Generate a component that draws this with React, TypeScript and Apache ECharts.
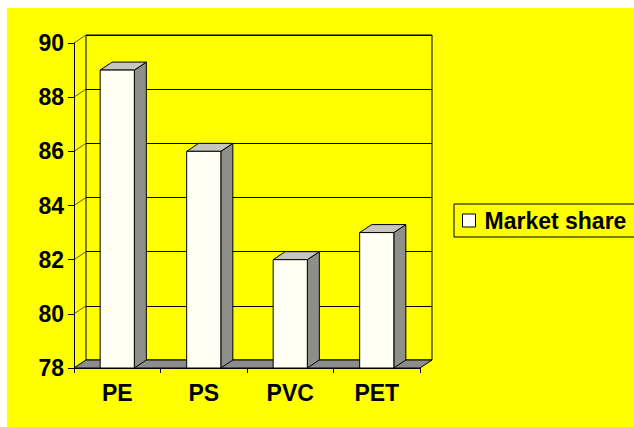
import React, { useEffect, useRef } from "react";
import * as echarts from "echarts";

const categories = ["PE", "PS", "PVC", "PET"];
const marketShare = [89, 86, 82, 83];
const yMin = 78;
const yMax = 90;
const yInterval = 2;
const seriesName = "Market share";

const DX = 12;
const DY = -8;
const FONT = "'Liberation Sans', Arial, sans-serif";

export default function App() {
  const ref = useRef<HTMLDivElement>(null);
  useEffect(() => {
    document.body.style.margin = "0";
    const chart = echarts.init(ref.current!, null, { renderer: "svg" });
    const yTicks: number[] = [];
    for (let v = yMin; v <= yMax; v += yInterval) yTicks.push(v);

    const option: any = {
      animation: false,
      backgroundColor: "transparent",
      grid: [
        { left: 67, top: 35, width: 346, height: 325, show: false },
        {
          left: 79,
          top: 27,
          width: 346,
          height: 325,
          show: true,
          backgroundColor: "#ffff00",
          borderColor: "#000",
          borderWidth: 1,
        },
      ],
      xAxis: [
        {
          type: "category",
          gridIndex: 0,
          data: categories,
          boundaryGap: true,
          axisLine: { show: true, lineStyle: { color: "#000", width: 1 } },
          axisTick: { show: true, length: 5, lineStyle: { color: "#000" } },
          axisLabel: {
            color: "#000",
            fontFamily: FONT,
            fontWeight: "bold",
            fontSize: 23,
            margin: 13,
          },
          z: 5,
        },
        {
          type: "category",
          gridIndex: 1,
          data: categories,
          show: false,
        },
      ],
      yAxis: [
        {
          type: "value",
          gridIndex: 0,
          min: yMin,
          max: yMax,
          interval: yInterval,
          axisLine: { show: true, lineStyle: { color: "#000", width: 1 } },
          axisTick: { show: true, length: 6, lineStyle: { color: "#000" } },
          axisLabel: {
            color: "#000",
            fontFamily: FONT,
            fontWeight: "bold",
            fontSize: 23,
            margin: 10,
          },
          splitLine: { show: false },
          z: 5,
        },
        {
          type: "value",
          gridIndex: 1,
          min: yMin,
          max: yMax,
          interval: yInterval,
          axisLine: { show: false },
          axisTick: { show: false },
          axisLabel: { show: false },
          splitLine: { show: true, lineStyle: { color: "#000", width: 1 } },
        },
      ],
      legend: {
        left: 447,
        top: 196,
        orient: "vertical",
        data: [
          {
            name: seriesName,
            icon: "rect",
            itemStyle: { color: "#fffff4", borderColor: "#000", borderWidth: 1 },
          },
        ],
        itemWidth: 13,
        itemHeight: 13,
        itemGap: 0,
        padding: [5, 14, 5, 8],
        borderColor: "#000",
        borderWidth: 1,
        backgroundColor: "#ffff00",
        textStyle: {
          color: "#000",
          fontFamily: FONT,
          fontWeight: "bold",
          fontSize: 23,
          padding: [0, 0, 0, 4],
        },
        selectedMode: false,
      },
      series: [
        {
          type: "custom",
          name: "walls",
          xAxisIndex: 0,
          yAxisIndex: 0,
          z: 2,
          silent: true,
          data: [[0, yMin]],
          renderItem: (params: any, api: any) => {
            const c0 = api.coord([0, yMin]);
            const catW = api.size([1, 0])[0];
            const left = c0[0] - catW / 2;
            const right = left + catW * categories.length;
            const base = c0[1];
            const children: any[] = [];
            children.push({
              type: "polygon",
              shape: {
                points: [
                  [left, base],
                  [right, base],
                  [right + DX, base + DY],
                  [left + DX, base + DY],
                ],
              },
              style: { fill: "#8c8c8c", stroke: "#000", lineWidth: 1 },
            });
            yTicks.forEach((t) => {
              const p = api.coord([0, t]);
              children.push({
                type: "line",
                shape: { x1: left, y1: p[1], x2: left + DX, y2: p[1] + DY },
                style: { stroke: "#333", lineWidth: 0.8 },
              });
            });
            return { type: "group", children };
          },
        },
        {
          type: "custom",
          name: seriesName,
          xAxisIndex: 0,
          yAxisIndex: 0,
          z: 3,
          itemStyle: { color: "#fffff4" },
          data: marketShare.map((v, i) => [i, v]),
          encode: { x: 0, y: 1 },
          renderItem: (params: any, api: any) => {
            const i = api.value(0);
            const v = api.value(1);
            const top = api.coord([i, v]);
            const bot = api.coord([i, yMin]);
            const w = api.size([1, 0])[0] * 0.395;
            const x0 = top[0] - w / 2;
            const x1 = top[0] + w / 2;
            const yt = top[1];
            const yb = bot[1];
            return {
              type: "group",
              children: [
                {
                  type: "polygon",
                  shape: {
                    points: [
                      [x1, yt],
                      [x1 + DX, yt + DY],
                      [x1 + DX, yb + DY],
                      [x1, yb],
                    ],
                  },
                  style: { fill: "#8f8f8a", stroke: "#000", lineWidth: 1 },
                },
                {
                  type: "polygon",
                  shape: {
                    points: [
                      [x0, yt],
                      [x0 + DX, yt + DY],
                      [x1 + DX, yt + DY],
                      [x1, yt],
                    ],
                  },
                  style: { fill: "#c6c6be", stroke: "#000", lineWidth: 1 },
                },
                {
                  type: "rect",
                  shape: { x: x0, y: yt, width: w, height: yb - yt },
                  style: { fill: "#fffff4", stroke: "#000", lineWidth: 1 },
                },
              ],
            };
          },
        },
      ],
    };
    chart.setOption(option);
    return () => chart.dispose();
  }, []);

  return (
    <div
      style={{
        position: "relative",
        width: 634,
        height: 427,
        background: "#fffff8",
        overflow: "hidden",
      }}
    >
      <div
        style={{
          position: "absolute",
          left: 7,
          top: 8,
          width: 627,
          height: 419,
          background: "#ffff00",
          overflow: "hidden",
        }}
      >
        <div ref={ref} style={{ width: 720, height: 419 }} />
      </div>
    </div>
  );
}
